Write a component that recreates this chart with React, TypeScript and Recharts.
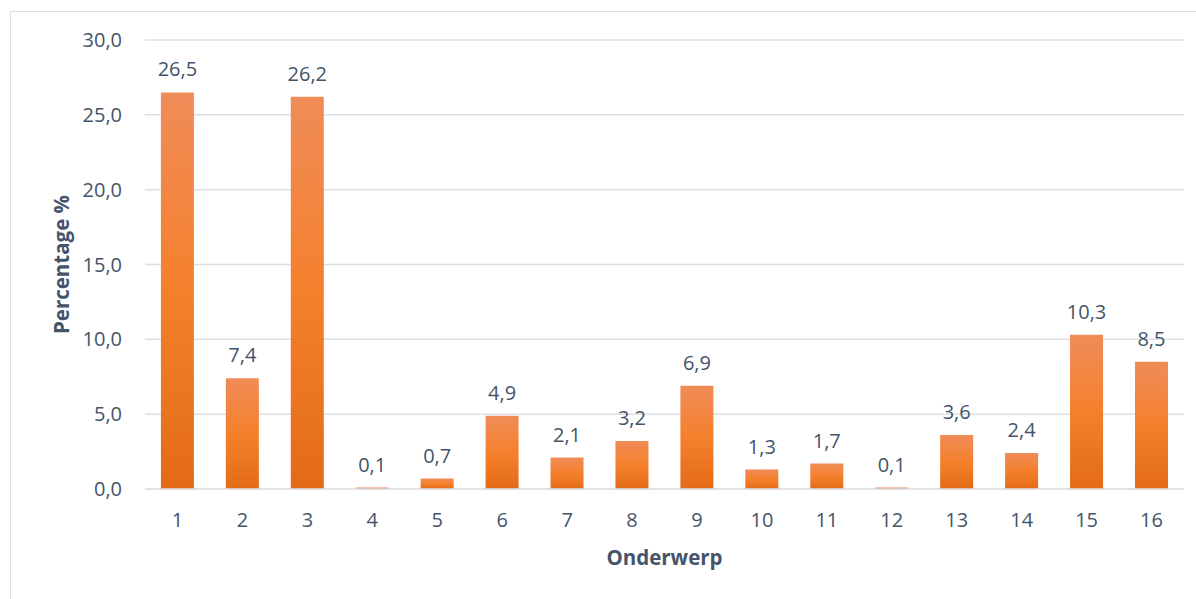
import React from 'react';
import { BarChart, Bar, XAxis, YAxis, CartesianGrid, LabelList } from 'recharts';

const categories = ['1','2','3','4','5','6','7','8','9','10','11','12','13','14','15','16'];
const values = [26.5, 7.4, 26.2, 0.1, 0.7, 4.9, 2.1, 3.2, 6.9, 1.3, 1.7, 0.1, 3.6, 2.4, 10.3, 8.5];
const yTicks = [0, 5, 10, 15, 20, 25, 30];

const data = categories.map((c, i) => ({ name: c, value: values[i] }));

const fmt = (v: number) => v.toFixed(1).replace('.', ',');
const FONT = '"Open Sans", "Noto Sans", sans-serif';
const TXT = '#44546A';

export default function App() {
  return (
    <div style={{ position: 'absolute', left: 0, top: 0, width: 1196, height: 599, background: '#fff', overflow: 'hidden' }}>
      <div style={{ position: 'absolute', left: 10, top: 11, width: 1300, height: 700, border: '1.5px solid #DCE0E6', boxSizing: 'border-box' }} />
      <div style={{ position: 'absolute', left: 0, top: 0 }}>
        <BarChart
          width={1196}
          height={599}
          data={data}
          margin={{ top: 40, right: 12, left: 65, bottom: 80 }}
          barCategoryGap="24.5%"
        >
          <defs>
            <linearGradient id="barGrad" x1="0" y1="0" x2="0" y2="1">
              <stop offset="0%" stopColor="#F08C58" />
              <stop offset="50%" stopColor="#F5802C" />
              <stop offset="100%" stopColor="#E36B18" />
            </linearGradient>
          </defs>
          <CartesianGrid vertical={false} stroke="#DCE0E6" strokeWidth={1.5} />
          <XAxis
            dataKey="name"
            axisLine={{ stroke: '#DCE0E6', strokeWidth: 1.5 }}
            tickLine={false}
            tickMargin={18}
            tick={{ fill: TXT, fontSize: 20, fontFamily: FONT }}
            interval={0}
            label={{ value: 'Onderwerp', position: 'insideBottom', offset: -46, fill: TXT, fontSize: 20.5, fontWeight: 700, fontFamily: FONT }}
          />
          <YAxis
            width={80}
            domain={[0, 30]}
            ticks={yTicks}
            axisLine={false}
            tickLine={false}
            tickMargin={17}
            tickFormatter={fmt}
            tick={{ fill: TXT, fontSize: 20, fontFamily: FONT }}
            label={{ value: 'Percentage %', angle: -90, position: 'center', dx: -43, fill: TXT, fontSize: 20.5, fontWeight: 700, fontFamily: FONT }}
          />
          <Bar dataKey="value" fill="url(#barGrad)" isAnimationActive={false}>
            <LabelList
              dataKey="value"
              position="top"
              offset={16}
              formatter={(v: any) => fmt(Number(v))}
              style={{ fill: TXT, fontSize: 20, fontFamily: FONT }}
            />
          </Bar>
        </BarChart>
      </div>
    </div>
  );
}
